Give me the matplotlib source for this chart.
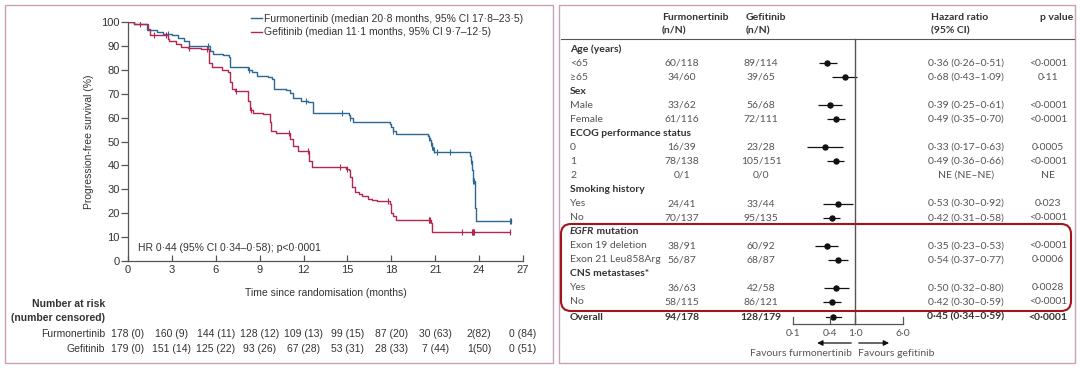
import numpy as np
import matplotlib
matplotlib.use('Agg')
import matplotlib.pyplot as plt
from matplotlib import font_manager
from matplotlib.patches import Rectangle, FancyBboxPatch
from matplotlib.transforms import blended_transform_factory, IdentityTransform

# ---------------- data: Kaplan-Meier (left panel) ----------------
furm_t = [0, 0.4, 1.3, 2.0, 2.4, 3.0, 3.4, 3.8, 4.2, 5.6, 5.8, 6.5, 6.9, 7.0, 7.6, 8.2, 8.5,
          8.8, 9.6, 9.85, 10.0, 10.8, 11.1, 11.3, 11.8, 12.3, 12.65, 15.1, 15.2, 15.35, 17.9,
          18.0, 18.1, 18.3, 20.5, 20.6, 20.65, 20.7, 20.75, 20.8, 20.85, 20.95, 23.35, 23.45,
          23.5, 23.6, 23.7, 23.8]
furm_s = [100, 99.2, 96.6, 96.0, 95.0, 94.5, 93.5, 92.0, 90.0, 88.0, 86.5, 86.0, 85.5, 81.3,
          81.0, 80.0, 79.0, 77.5, 77.0, 76.0, 72.0, 71.5, 70.5, 68.0, 67.0, 66.5, 61.8, 61.0,
          60.0, 58.3, 57.3, 56.0, 54.5, 53.2, 52.5, 51.5, 50.5, 49.5, 48.5, 47.5, 46.5, 45.5,
          44.0, 42.0, 38.0, 33.5, 22.0, 16.6]
furm_end = 26.2
furm_cens = [2.7, 5.5, 8.3, 12.2, 14.6, 15.2, 18.1, 20.6, 20.7, 20.8, 20.9, 21.1, 22.0,
             23.45, 23.6, 23.65, 26.1, 26.2]

gef_t = [0, 0.4, 1.35, 1.5, 2.7, 2.8, 3.3, 3.6, 4.1, 5.0, 5.55, 5.75, 6.4, 6.85, 7.0, 7.1,
         7.3, 8.2, 8.35, 8.55, 9.2, 9.7, 9.8, 10.1, 11.1, 11.3, 11.6, 12.4, 12.6, 14.9, 15.1,
         15.2, 15.3, 15.5, 15.8, 16.0, 16.4, 16.7, 17.0, 17.9, 18.0, 18.1, 18.3, 20.7, 20.75,
         20.8]
gef_s = [100, 99.0, 97.0, 94.4, 93.0, 92.0, 91.0, 89.5, 89.0, 88.5, 83.0, 81.0, 80.0, 79.0,
         75.0, 72.0, 71.0, 67.0, 63.0, 62.0, 61.5, 58.0, 54.5, 53.5, 51.0, 48.0, 46.0, 42.0,
         39.2, 38.5, 38.0, 35.0, 31.0, 29.0, 28.0, 27.0, 26.0, 25.5, 25.1, 24.0, 20.0, 19.0,
         17.0, 16.0, 14.0, 12.2]
gef_end = 26.1
gef_cens = [0.8, 1.8, 2.6, 4.2, 5.4, 7.4, 8.4, 11.0, 12.3, 14.5, 15.0, 17.8, 20.55, 20.6,
            20.65, 22.8, 23.5, 23.55, 23.6, 23.65, 26.1]

furm_label = 'Furmonertinib (median 20\u00b78 months, 95% CI 17\u00b78\u201323\u00b75)'
gef_label = 'Gefitinib (median 11\u00b71 months, 95% CI 9\u00b77\u201312\u00b75)'
hr_note = 'HR 0\u00b744 (95% CI 0\u00b734\u20130\u00b758); p<0\u00b70001'

risk_times = [0, 3, 6, 9, 12, 15, 18, 21, 24, 27]
furm_risk = ['178 (0)', '160 (9)', '144 (11)', '128 (12)', '109 (13)', '99 (15)',
             '87 (20)', '30 (63)', '2(82)', '0 (84)']
gef_risk = ['179 (0)', '151 (14)', '125 (22)', '93 (26)', '67 (28)', '53 (31)',
            '28 (33)', '7 (44)', '1(50)', '0 (51)']

# ---------------- data: forest plot (right panel) ----------------
groups = ['Age (years)', 'Sex', 'ECOG performance status', 'Smoking history',
          'EGFR mutation', 'CNS metastases*']
subgroups = [['<65', '\u226565'], ['Male', 'Female'], ['0', '1', '2'], ['Yes', 'No'],
             ['Exon 19 deletion', 'Exon 21 Leu858Arg'], ['Yes', 'No']]
furm_nN = ['60/118', '34/60', '33/62', '61/116', '16/39', '78/138', '0/1', '24/41',
           '70/137', '38/91', '56/87', '36/63', '58/115']
gef_nN = ['89/114', '39/65', '56/68', '72/111', '23/28', '105/151', '0/0', '33/44',
          '95/135', '60/92', '68/87', '42/58', '86/121']
hr = [0.36, 0.68, 0.39, 0.49, 0.33, 0.49, None, 0.53, 0.42, 0.35, 0.54, 0.50, 0.42]
hr_lo = [0.26, 0.43, 0.25, 0.35, 0.17, 0.36, None, 0.30, 0.31, 0.23, 0.37, 0.32, 0.30]
hr_hi = [0.51, 1.09, 0.61, 0.70, 0.63, 0.66, None, 0.92, 0.58, 0.53, 0.77, 0.80, 0.59]
p_val = ['<0\u00b70001', '0\u00b711', '<0\u00b70001', '<0\u00b70001', '0\u00b70005',
         '<0\u00b70001', 'NE', '0\u00b7023', '<0\u00b70001', '<0\u00b70001', '0\u00b70006',
         '0\u00b70028', '<0\u00b70001']
overall = {'furm': '94/178', 'gef': '128/179', 'hr': 0.45, 'lo': 0.34, 'hi': 0.59,
           'p': '<0\u00b70001'}
forest_ticks = [0.1, 0.4, 1.0, 6.0]
forest_ticklabels = ['0\u00b71', '0\u00b74', '1\u00b70', '6\u00b70']


def pick_font(*names):
    for n in names:
        try:
            font_manager.findfont(n, fallback_to_default=False)
            return n
        except ValueError:
            pass
    return 'DejaVu Sans'


def fmt(v):
    return ('%.2f' % v).replace('.', '\u00b7')


def step_value(ts, ss, t):
    i = np.searchsorted(ts, t, side='right') - 1
    return ss[i]


NARROW = pick_font('Liberation Sans Narrow', 'Liberation Sans')
TABLE = pick_font('Lato', 'Liberation Sans')
LFS = 7.5  # left panel font size

W, H = 1080, 368
fig = plt.figure(figsize=(W / 100, H / 100), dpi=100)


def fx(x):
    return x / W


def fy(y):
    return 1 - y / H


BLUE = '#2b6896'
RED = '#b3274f'
GREY = '#555555'
TXT = '#333333'
FRAME = '#c9a0b6'

# panel frames
fig.patches.append(Rectangle((fx(5), fy(363)), fx(548), (358) / H, transform=fig.transFigure,
                             fill=False, edgecolor=FRAME, lw=1.0))
fig.patches.append(Rectangle((fx(559), fy(363)), fx(516), (358) / H, transform=fig.transFigure,
                             fill=False, edgecolor=FRAME, lw=1.0))

# ---------------- left panel ----------------
ax = fig.add_axes([fx(128), fy(261), fx(523 - 128), (261 - 22) / H])
for t, s, end, cens, col, lab in [(furm_t, furm_s, furm_end, furm_cens, BLUE, furm_label),
                                  (gef_t, gef_s, gef_end, gef_cens, RED, gef_label)]:
    ts = np.array(t + [end])
    ss = np.array(s + [s[-1]])
    ax.step(ts, ss, where='post', color=col, lw=1.0, label=lab)
    cy = [step_value(ts, ss, c) for c in cens]
    ax.plot(cens, cy, ls='none', marker='|', ms=4, mew=0.8, color=col)

ax.set_xlim(0, 27)
ax.set_ylim(0, 100)
ax.set_xticks(np.arange(0, 28, 3))
ax.set_yticks(np.arange(0, 101, 10))
for sp in ['top', 'right']:
    ax.spines[sp].set_visible(False)
for sp in ['left', 'bottom']:
    ax.spines[sp].set_color(GREY)
    ax.spines[sp].set_linewidth(0.9)
ax.tick_params(axis='y', direction='out', length=5, width=0.9, color=GREY,
               labelsize=LFS + 0.5, labelcolor=TXT, pad=1)
ax.tick_params(axis='x', direction='in', length=4, width=0.9, color=GREY,
               labelsize=LFS + 0.5, labelcolor=TXT, pad=3)
for lbl in ax.get_xticklabels() + ax.get_yticklabels():
    lbl.set_fontfamily(NARROW)
ax.set_ylabel('Progression-free survival (%)', fontsize=LFS, color=TXT, family=NARROW,
              labelpad=5)
ax.set_xlabel('Time since randomisation (months)', fontsize=LFS, color=TXT, family=NARROW,
              labelpad=9)
ax.text(0.65, 5.5, hr_note, fontsize=LFS, color=TXT, family=NARROW, va='center')
leg = ax.legend(loc='upper right', bbox_to_anchor=(1.0, 1.035), frameon=False,
                handlelength=1.0, handletextpad=0.2, borderaxespad=0, borderpad=0,
                labelspacing=0.35, prop={'family': NARROW, 'size': LFS})
for txt in leg.get_texts():
    txt.set_color(TXT)

# number at risk table
tr = blended_transform_factory(ax.transData, fig.transFigure)
fig.text(fx(105), fy(304), 'Number at risk', ha='right', va='center', fontsize=LFS,
         fontweight='bold', color=TXT, family=NARROW)
fig.text(fx(105), fy(318), '(number censored)', ha='right', va='center', fontsize=LFS,
         fontweight='bold', color=TXT, family=NARROW)
fig.text(fx(105), fy(334), 'Furmonertinib', ha='right', va='center', fontsize=LFS,
         color=TXT, family=NARROW)
fig.text(fx(105), fy(349), 'Gefitinib', ha='right', va='center', fontsize=LFS,
         color=TXT, family=NARROW)
for x, a, b in zip(risk_times, furm_risk, gef_risk):
    ax.text(x, fy(334), a, transform=tr, ha='center', va='center', fontsize=LFS,
            color=TXT, family=NARROW, clip_on=False)
    ax.text(x, fy(349), b, transform=tr, ha='center', va='center', fontsize=LFS,
            color=TXT, family=NARROW, clip_on=False)

# ---------------- right panel ----------------
ROW0, DROW = 49, 14.05
ytop, ybot = 38, 363
fa = fig.add_axes([fx(855 - 62 * 1.5), fy(ybot), fx(62 * 2.5), (ybot - ytop) / H])
fa.set_xscale('log')
fa.set_xlim(10 ** -1.5, 10 ** 1.0)
fa.set_ylim((ybot - ROW0) / DROW, (ytop - ROW0) / DROW)
fa.axis('off')
tt = blended_transform_factory(fig.transFigure, fa.transData)
FS = 7.5

# header
for xh, l1, l2 in [(662, 'Furmonertinib', '(n/N)'), (746, 'Gefitinib', '(n/N)'),
                   (931, 'Hazard ratio', '(95% CI)'), (1040, 'p value', '')]:
    fig.text(fx(xh), fy(18), l1, fontsize=FS, fontweight='bold', color=TXT, family=TABLE,
             va='center')
    if l2:
        fig.text(fx(xh), fy(31), l2, fontsize=FS, fontweight='bold', color=TXT, family=TABLE,
                 va='center')
fig.add_artist(plt.Line2D([fx(561), fx(1074)], [fy(39), fy(39)], color=GREY, lw=0.8,
                          transform=fig.transFigure))

row = 0
k = 0
for g, subs in zip(groups, subgroups):
    if g.startswith('EGFR'):
        t0 = fa.text(fx(570), row, 'EGFR', transform=tt, fontsize=FS, fontweight='bold',
                     style='italic', color=TXT, family=TABLE, va='center')
        fa.annotate(' mutation', xy=(1, 0), xycoords=t0, fontsize=FS, fontweight='bold',
                    color=TXT, family=TABLE, va='bottom')
    else:
        fa.text(fx(570), row, g, transform=tt, fontsize=FS, fontweight='bold', color=TXT,
                family=TABLE, va='center')
    row += 1
    for s in subs:
        fa.text(fx(570), row, s, transform=tt, fontsize=FS, color=GREY, family=TABLE,
                va='center')
        fa.text(fx(682), row, furm_nN[k], transform=tt, fontsize=FS, color=GREY,
                family=TABLE, va='center', ha='center')
        fa.text(fx(761), row, gef_nN[k], transform=tt, fontsize=FS, color=GREY,
                family=TABLE, va='center', ha='center')
        if hr[k] is None:
            ci = 'NE (NE\u2013NE)'
        else:
            ci = '%s (%s\u2013%s)' % (fmt(hr[k]), fmt(hr_lo[k]), fmt(hr_hi[k]))
            fa.plot([hr_lo[k], hr_hi[k]], [row, row], color='#111111', lw=0.9,
                    solid_capstyle='butt')
            fa.plot(hr[k], row, 'o', color='#111111', ms=3.6)
        fa.text(fx(966), row, ci, transform=tt, fontsize=FS, color=GREY, family=TABLE,
                va='center', ha='center')
        fa.text(fx(1048), row, p_val[k], transform=tt, fontsize=FS, color=GREY,
                family=TABLE, va='center', ha='center')
        row += 1
        k += 1

# overall
yo = row + 0.1
fa.text(fx(570), yo, 'Overall', transform=tt, fontsize=FS, fontweight='bold', color=TXT,
        family=TABLE, va='center')
fa.text(fx(682), yo, overall['furm'], transform=tt, fontsize=FS, fontweight='bold',
        color=TXT, family=TABLE, va='center', ha='center')
fa.text(fx(761), yo, overall['gef'], transform=tt, fontsize=FS, fontweight='bold',
        color=TXT, family=TABLE, va='center', ha='center')
fa.text(fx(966), yo, '%s (%s\u2013%s)' % (fmt(overall['hr']), fmt(overall['lo']),
                                          fmt(overall['hi'])),
        transform=tt, fontsize=FS, fontweight='bold', color=TXT, family=TABLE,
        va='center', ha='center')
fa.text(fx(1048), yo, overall['p'], transform=tt, fontsize=FS, fontweight='bold',
        color=TXT, family=TABLE, va='center', ha='center')
fa.plot([overall['lo'], overall['hi']], [yo, yo], color='#111111', lw=0.9)
fa.plot(overall['hr'], yo, 'o', color='#111111', ms=3.6)

# forest axis
yax = (324 - ROW0) / DROW
fa.plot([1.0, 1.0], [(39 - ROW0) / DROW, yax], color=GREY, lw=1.0, clip_on=False)
fa.plot([forest_ticks[0], forest_ticks[-1]], [yax, yax], color=GREY, lw=0.9, clip_on=False)
for xt, lt in zip(forest_ticks, forest_ticklabels):
    fa.plot([xt, xt], [yax, yax - 0.5], color=GREY, lw=0.9, clip_on=False)
    fa.text(xt, (333 - ROW0) / DROW, lt, fontsize=FS, color=GREY, family=TABLE,
            ha='center', va='center')
ya = (343 - ROW0) / DROW
fa.annotate('', xy=(0.245, ya), xytext=(0.87, ya),
            arrowprops=dict(arrowstyle='-|>', color='#111111', lw=0.9,
                            mutation_scale=8, shrinkA=0, shrinkB=0))
fa.annotate('', xy=(3.55, ya), xytext=(1.15, ya),
            arrowprops=dict(arrowstyle='-|>', color='#111111', lw=0.9,
                            mutation_scale=8, shrinkA=0, shrinkB=0))
fa.text(0.9, (354 - ROW0) / DROW, 'Favours furmonertinib', fontsize=FS, color=GREY,
        family=TABLE, ha='right', va='center')
fa.text(1.1, (354 - ROW0) / DROW, 'Favours gefitinib', fontsize=FS, color=GREY,
        family=TABLE, ha='left', va='center')

# highlight box
box = FancyBboxPatch((561, H - 311), 510, 87, boxstyle='round,pad=0,rounding_size=10',
                     transform=IdentityTransform(), fill=False, edgecolor='#a3141c', lw=1.5)
fig.patches.append(box)

fig.savefig('out.png', dpi=100)
